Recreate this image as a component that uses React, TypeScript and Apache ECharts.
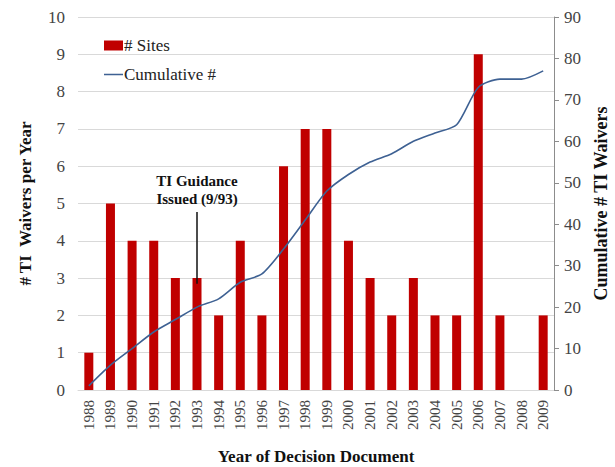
import React, { useEffect, useRef } from "react";
import * as echarts from "echarts";

const years = ["1988","1989","1990","1991","1992","1993","1994","1995","1996","1997","1998","1999","2000","2001","2002","2003","2004","2005","2006","2007","2008","2009"];
const sites = [1,5,4,4,3,3,2,4,2,6,7,7,4,3,2,3,2,2,9,2,0,2];
const cumulative = [1,6,10,14,17,20,22,26,28,34,41,48,52,55,57,60,62,64,73,75,75,77];

const serif = "Liberation Serif";

export default function App() {
  const ref = useRef<HTMLDivElement>(null);
  useEffect(() => {
    document.body.style.margin = "0";
    const chart = echarts.init(ref.current!, null, { renderer: "svg" });
    chart.setOption({
      animation: false,
      backgroundColor: "#ffffff",
      textStyle: { fontFamily: serif },
      grid: { left: 78, right: 61, top: 17, bottom: 77, containLabel: false, outerBoundsMode: "none" },
      legend: {
        orient: "vertical",
        left: 99,
        top: 32,
        itemGap: 12,
        itemWidth: 19,
        itemHeight: 10,
        textStyle: { fontFamily: serif, fontSize: 17, color: "#222", padding: [0, 0, 0, -4] },
        data: [
          { name: "# Sites", icon: "rect" },
          { name: "Cumulative #", icon: "path://M0,0 L20,0 L20,1.6 L0,1.6 Z" },
        ],
      },
      xAxis: {
        type: "category",
        data: years,
        boundaryGap: true,
        axisLine: { show: true, lineStyle: { color: "#d9d9d9" } },
        axisTick: { show: false },
        axisLabel: { rotate: 90, fontSize: 15, color: "#444", fontFamily: serif, margin: 10 },
        name: "Year of Decision Document",
        nameLocation: "middle",
        nameGap: 58,
        nameTextStyle: { fontFamily: serif, fontWeight: "bold", fontSize: 17, color: "#111" },
      },
      yAxis: [
        {
          type: "value",
          min: 0,
          max: 10,
          interval: 1,
          axisLine: { show: false },
          axisTick: { show: false },
          splitLine: { show: true, lineStyle: { color: "#d9d9d9", width: 1 } },
          axisLabel: { fontSize: 17, color: "#444", fontFamily: serif, margin: 13 },
          name: "# TI  Waivers per Year",
          nameLocation: "middle",
          nameGap: 44,
          nameRotate: 90,
          nameTextStyle: { fontFamily: serif, fontWeight: "bold", fontSize: 17, color: "#111" },
        },
        {
          type: "value",
          min: 0,
          max: 90,
          interval: 10,
          position: "right",
          axisLine: { show: true, lineStyle: { color: "#8c8c8c" } },
          axisTick: { show: true, inside: false, length: 5, lineStyle: { color: "#8c8c8c" } },
          splitLine: { show: false },
          axisLabel: { fontSize: 17, color: "#444", fontFamily: serif, margin: 10 },
          name: "Cumulative # TI Waivers",
          nameLocation: "middle",
          nameGap: 38,
          nameRotate: 90,
          nameTextStyle: { fontFamily: serif, fontWeight: "bold", fontSize: 18, color: "#111" },
        },
      ],
      series: [
        {
          name: "# Sites",
          type: "bar",
          yAxisIndex: 0,
          data: sites,
          barWidth: 9,
          itemStyle: { color: "#C00000" },
          markLine: {
            silent: true,
            symbol: ["none", "arrow"],
            symbolSize: [0, 9],
            lineStyle: { color: "#111", width: 1.5, type: "solid" },
            label: {
              show: true,
              position: "start",
              formatter: "TI Guidance\nIssued (9/93)",
              fontFamily: serif,
              fontWeight: "bold",
              fontSize: 15,
              color: "#111",
              lineHeight: 18,
              distance: 4,
            },
            data: [[{ coord: ["1993", 4.77] }, { coord: ["1993", 2.85] }]],
          },
        },
        {
          name: "Cumulative #",
          type: "line",
          yAxisIndex: 1,
          data: cumulative,
          symbol: "none",
          smooth: 0.25,
          lineStyle: { color: "#3E6193", width: 1.6 },
          itemStyle: { color: "#3E6193" },
        },
      ],
    });
    return () => chart.dispose();
  }, []);
  return <div ref={ref} style={{ width: 615, height: 467 }} />;
}
